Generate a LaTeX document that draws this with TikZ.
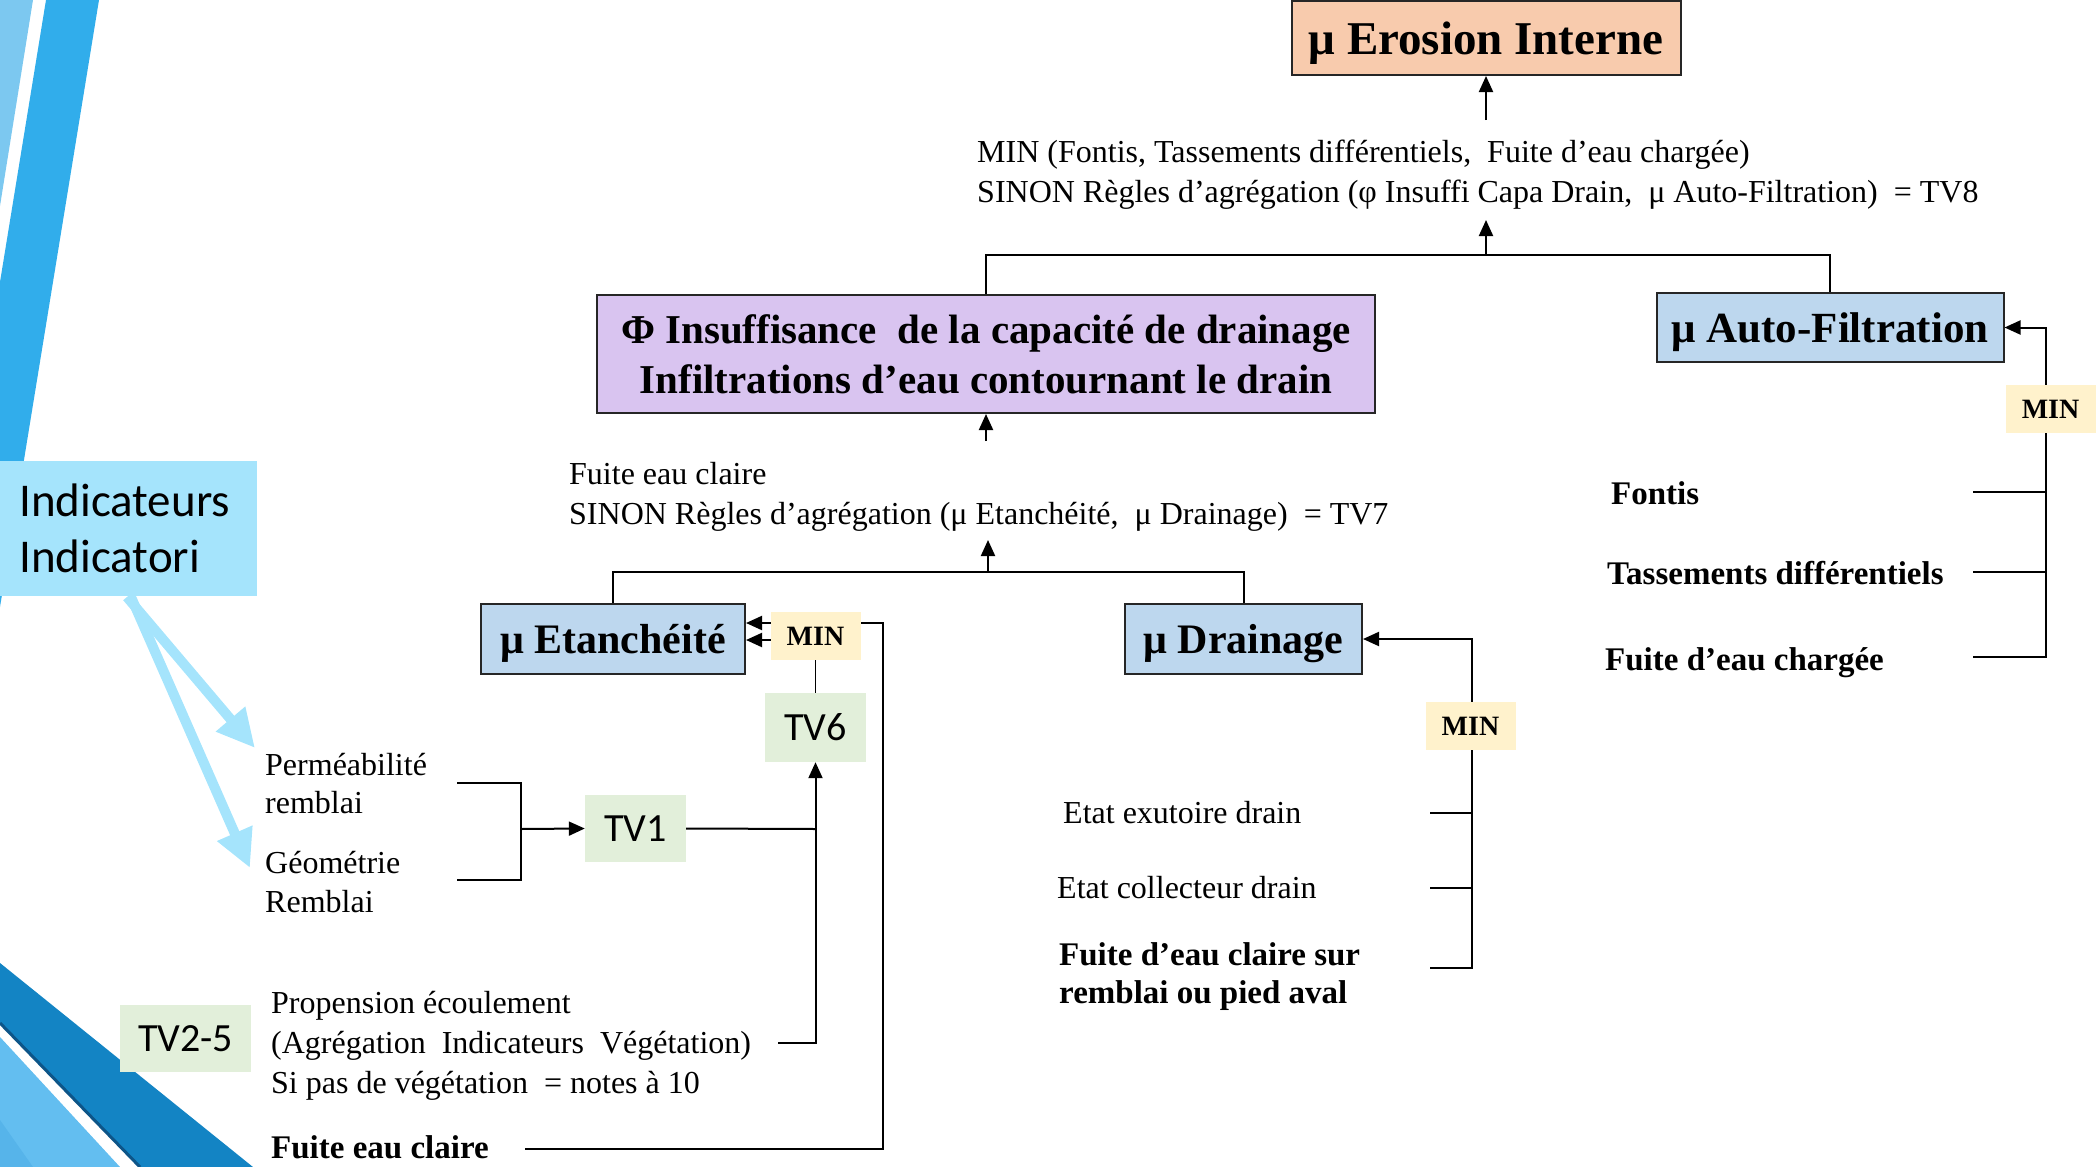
\documentclass[tikz,border=0pt]{standalone}
\usepackage{fontspec}
\setmainfont{Liberation Serif}
\newfontfamily\calfont{Carlito}
\usetikzlibrary{arrows.meta}
\definecolor{peach}{HTML}{F8CBAD}
\definecolor{lav}{HTML}{D9C4F0}
\definecolor{bluebox}{HTML}{BDD7EE}
\definecolor{minc}{HTML}{FFF2CC}
\definecolor{tvc}{HTML}{E2EFDA}
\definecolor{indc}{HTML}{A5E4FC}
\definecolor{boxline}{HTML}{262626}
\definecolor{stripeL}{HTML}{7CC8F0}
\definecolor{stripeD}{HTML}{31ADEB}
\definecolor{bandD}{HTML}{1384C4}
\definecolor{bandDk}{HTML}{0D5588}
\definecolor{bandL}{HTML}{63BEF0}
\definecolor{bandLL}{HTML}{56B4EA}
\pgfdeclarelayer{deco}
\pgfdeclarelayer{lines}
\pgfsetlayers{deco,lines,main}
\newcommand\fs[2]{\fontsize{#1}{#2}\selectfont}
\begin{document}
\begin{tikzpicture}[x=1pt,y=-1pt,
  headbox/.style={draw=boxline, line width=2pt, inner sep=0pt, align=center},
  onebox/.style={headbox, text depth=0pt},
  minbox/.style={fill=minc, inner sep=0pt, minimum width=90pt, minimum height=48pt, text depth=0pt, font=\fs{28}{28}\bfseries},
  tvbox/.style={fill=tvc, inner sep=0pt, font=\calfont\fs{40}{40}},
  txt/.style={anchor=base west, inner sep=0pt, font=\fs{32}{40}},
  btxt/.style={anchor=base west, inner sep=0pt, font=\fs{33}{40}\bfseries},
  con/.style={line width=2pt, draw=black},
  thinline/.style={line width=1.5pt, draw=black},
  arr/.style={con, -{Triangle[length=16pt,width=14pt]}},
  cyanarr/.style={draw=indc, line width=10pt, -{Triangle[length=38pt,width=36pt]}}
]
\useasboundingbox (0,0) rectangle (2096,1167);

% decorative stripes
\begin{pgfonlayer}{deco}
\fill[stripeL] (0,0) -- (33,0) -- (0,206) -- cycle;
\fill[stripeD] (46,0) -- (99,0) -- (0,607) -- (0,282) -- cycle;
\fill[bandD] (0,963) -- (253,1167) -- (140,1167) -- (0,1023) -- cycle;
\draw[bandDk, line width=3pt] (0,1023) -- (140,1167);
\fill[bandL] (0,1037) -- (120,1167) -- (0,1167) -- cycle;
\fill[bandLL] (0,1120) -- (33,1167) -- (0,1167) -- cycle;
\end{pgfonlayer}

% main boxes
\node[onebox, fill=peach, minimum width=389pt, minimum height=74pt, font=\fs{47}{47}\bfseries] (ero) at (1486,38) {μ Erosion Interne};
\node[headbox, fill=lav, minimum width=778pt, minimum height=118pt, font=\fs{41}{50}\bfseries] (ins) at (986,354) {Φ Insuffisance~ de la capacité de drainage\\Infiltrations d’eau contournant le drain};
\node[onebox, fill=bluebox, minimum width=347pt, minimum height=69pt, font=\fs{43}{43}\bfseries] (auto) at (1830,327.5) {μ Auto-Filtration};
\node[onebox, fill=bluebox, minimum width=264pt, minimum height=70pt, font=\fs{42}{42}\bfseries] (eta) at (613,639) {μ Etanchéité};
\node[onebox, fill=bluebox, minimum width=237pt, minimum height=70pt, font=\fs{42}{42}\bfseries] (dra) at (1243.5,639) {μ Drainage};

\node[minbox] (min1) at (815.5,636) {MIN};
\node[minbox] (min2) at (1470.5,726) {MIN};
\node[minbox] (min3) at (2050.5,409) {MIN};

\node[tvbox, minimum width=101pt, minimum height=69pt] (tv6) at (815.5,727.5) {TV6};
\node[tvbox, minimum width=101pt, minimum height=67pt] (tv1) at (635.5,828.5) {TV1};
\node[tvbox, minimum width=131pt, minimum height=67pt] (tv25) at (185.5,1038.5) {TV2-5};

% Indicateurs
\node[fill=indc, inner sep=0pt, minimum width=257pt, minimum height=135pt] (ind) at (128.5,528.5) {};
\node[anchor=base west, inner sep=0pt, font=\calfont\fs{47}{47}] (ind1) at (19,516) {Indicateurs};
\node[anchor=base west, inner sep=0pt, font=\calfont\fs{47}{47}] (ind2) at (19,572) {Indicatori};

% texts
\node[txt] (a8a) at (977,162) {MIN (Fontis, Tassements différentiels,~ Fuite d’eau chargée)};
\node[txt] (a8b) at (977,202) {SINON Règles d’agrégation (φ Insuffi Capa Drain,~ μ Auto-Filtration)~ = TV8};
\node[txt] (a7a) at (569,484) {Fuite eau claire};
\node[txt] (a7b) at (569,524) {SINON Règles d’agrégation (μ Etanchéité,~ μ Drainage)~ = TV7};
\node[txt] (perm1) at (265,775) {Perméabilité};
\node[txt] (perm2) at (265,813) {remblai};
\node[txt] (geo1) at (265,873) {Géométrie};
\node[txt] (geo2) at (265,912) {Remblai};
\node[txt] (prop1) at (271,1013) {Propension écoulement};
\node[txt] (prop2) at (271,1053) {(Agrégation~ Indicateurs~ Végétation)};
\node[txt] (prop3) at (271,1093) {Si pas de végétation~ = notes à 10};
\node[btxt] (fec) at (271,1158) {Fuite eau claire};
\node[txt] (ex1) at (1063,823) {Etat exutoire drain};
\node[txt] (ex2) at (1057,898) {Etat collecteur drain};
\node[btxt] (fdc1) at (1059,965) {Fuite d’eau claire sur};
\node[btxt] (fdc2) at (1059,1003) {remblai ou pied aval};
\node[btxt] (fon) at (1611,504) {Fontis};
\node[btxt] (tas) at (1607,584) {Tassements différentiels};
\node[btxt] (fch) at (1605,670) {Fuite d’eau chargée};

% junction coordinates
\coordinate (j8) at (1486,255);
\coordinate (t8) at (1486,220);
\coordinate (s8) at (1486,120);
\coordinate (j7) at (988,572);
\coordinate (t7) at (988,540);
\coordinate (s7) at (986,441);
\coordinate (e1) at (525,1149);
\coordinate (e2) at (883,1149);
\coordinate (e3) at (883,623);
\coordinate (m1) at (771,640);
\coordinate (p1) at (778,1043);
\coordinate (p2) at (815.5,1043);
\coordinate (q1) at (815.5,829);
\coordinate (b1) at (457,783);
\coordinate (b2) at (521,783);
\coordinate (b3) at (521,880);
\coordinate (b4) at (457,880);
\coordinate (b5) at (521,829);
\coordinate (d1) at (1430,968);
\coordinate (d2) at (1472,968);
\coordinate (d3) at (1472,639);
\coordinate (d4) at (1430,813);
\coordinate (d5) at (1430,888);
\coordinate (r1) at (1973,657);
\coordinate (r2) at (2046,657);
\coordinate (r3) at (2046,327.5);
\coordinate (r4) at (1973,492);
\coordinate (r5) at (1973,572);
\coordinate (c0a) at (127,597);
\coordinate (c0b) at (131,597);
\coordinate (c1) at (255,748);
\coordinate (c2) at (250,868);

\begin{pgfonlayer}{lines}
\draw[con] (ins.north) |- (j8) -| (auto.north);
\draw[arr] (j8) -- (t8);
\draw[arr] (s8) -- (ero.south);
\draw[con] (eta.north) |- (j7) -| (dra.north);
\draw[arr] (j7) -- (t7);
\draw[arr] (s7) -- (ins.south);
\draw[arr] (e1) -- (e2) -- (e3) -- (e3 -| eta.east);
\draw[arr] (m1) -- (m1 -| eta.east);
\draw[thinline] (min1.south) -- (tv6.north);
\draw[arr] (p1) -- (p2) -- (tv6.south);
\draw[con] (tv1.east) -- (q1);
\draw[con] (b1) -- (b2) -- (b3) -- (b4);
\draw[arr] (b5) -- (tv1.west);
\draw[arr] (d1) -- (d2) -- (d3) -- (dra.east);
\draw[con] (d4) -- (d4 -| d2);
\draw[con] (d5) -- (d5 -| d2);
\draw[arr] (r1) -- (r2) -- (r3) -- (auto.east);
\draw[con] (r4) -- (r4 -| r2);
\draw[con] (r5) -- (r5 -| r2);
\end{pgfonlayer}

\draw[cyanarr] (c0a) -- (c1);
\draw[cyanarr] (c0b) -- (c2);
\end{tikzpicture}
\end{document}
